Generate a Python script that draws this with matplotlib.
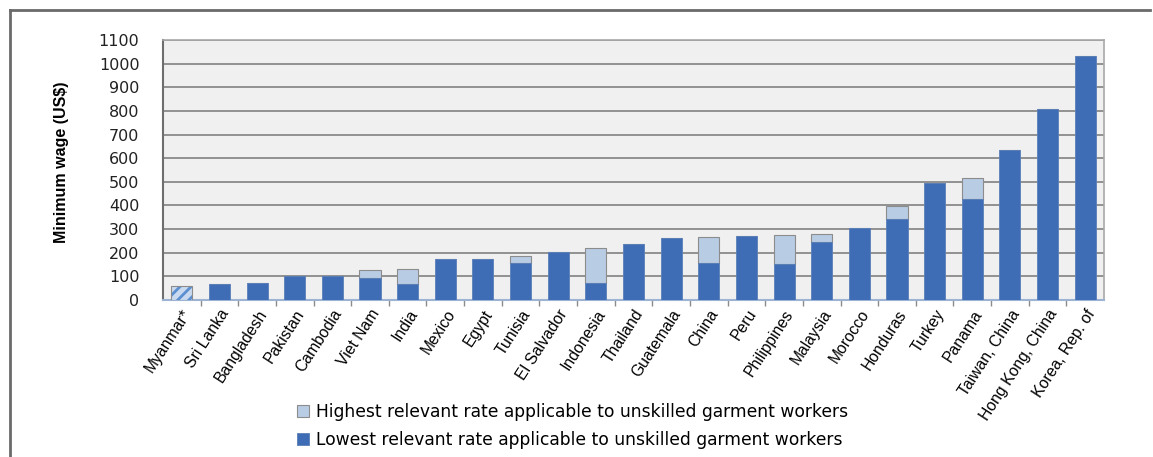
import matplotlib
matplotlib.use("Agg")
import matplotlib.pyplot as plt
from matplotlib.lines import Line2D
from matplotlib.patches import Patch
import numpy as np

countries = ["Myanmar*", "Sri Lanka", "Bangladesh", "Pakistan", "Cambodia",
             "Viet Nam", "India", "Mexico", "Egypt", "Tunisia", "El Salvador",
             "Indonesia", "Thailand", "Guatemala", "China", "Peru",
             "Philippines", "Malaysia", "Morocco", "Honduras", "Turkey",
             "Panama", "Taiwan, China", "Hong Kong, China", "Korea, Rep. of"]

# Lowest relevant monthly rate (US$)
lowest = [58, 69, 71, 103, 103, 92, 69, 175, 172, 158, 201, 73, 239, 261,
          158, 270, 152, 246, 305, 342, 496, 427, 636, 808, 1032]
# Highest relevant monthly rate (US$)
highest = [58, 69, 71, 103, 103, 128, 133, 175, 172, 185, 201, 220, 239, 261,
           265, 270, 276, 278, 305, 398, 496, 518, 636, 808, 1032]

y_ticks = [0, 100, 200, 300, 400, 500, 600, 700, 800, 900, 1000, 1100]

DARK = "#3E6DB5"
LIGHT = "#B8CCE4"
EDGE = "#8C8C8C"

W, H = 1153, 457
fig = plt.figure(figsize=(W / 100, H / 100), dpi=100)
ax = fig.add_axes([163 / W, 1 - 300 / H, (1104 - 163) / W, (300 - 40) / H])
ax.set_facecolor("#F0F0F0")

x = np.arange(len(countries))
bw = 0.56
low = np.array(lowest, dtype=float)
high = np.array(highest, dtype=float)

# Myanmar is shown hatched; the others are solid stacks
hatched = np.zeros(len(countries), dtype=bool)
hatched[0] = True

# extra range above the lowest rate
ax.bar(x[~hatched], (high - low)[~hatched], bottom=low[~hatched], width=bw,
       color=LIGHT, edgecolor=EDGE, linewidth=0.8, zorder=3)
ax.bar(x[~hatched], low[~hatched], width=bw, color=DARK,
       edgecolor="#5A7FB8", linewidth=0.6, zorder=3)

plt.rcParams["hatch.linewidth"] = 2.0
ax.bar(x[hatched], low[hatched], width=bw, color="#C9DAF0",
       edgecolor="#5B8FD0", hatch="///", linewidth=0, zorder=3)
ax.bar(x[hatched], low[hatched], width=bw, fill=False,
       edgecolor=EDGE, linewidth=0.8, zorder=4)

ax.set_xlim(-0.5, len(countries) - 0.5)
ax.set_ylim(0, 1100)
ax.set_yticks(y_ticks)
ax.set_yticklabels([str(v) for v in y_ticks], fontsize=11.5,
                   family="DejaVu Sans", color="#222222")
ax.tick_params(axis="y", length=0, pad=17)

ax.set_xticks(x)
ax.set_xticklabels(countries, rotation=57, ha="right",
                   rotation_mode="anchor", fontsize=11.3,
                   family="Liberation Sans")
ax.tick_params(axis="x", length=0, pad=5)
ax.set_xticks(np.arange(0.5, len(countries) - 0.5), minor=True)
ax.tick_params(axis="x", which="minor", length=4, color="#8C8C8C", width=1)

ax.yaxis.grid(True, color="#8A8A8A", linewidth=1.3, zorder=1)
ax.set_axisbelow(True)

for side in ("top", "right"):
    ax.spines[side].set_color("#A8A8A8")
    ax.spines[side].set_linewidth(1.2)
ax.spines["left"].set_color("#6E6E6E")
ax.spines["left"].set_linewidth(1.5)
ax.spines["bottom"].set_color("#9DB3D3")
ax.spines["bottom"].set_linewidth(1.5)

ax.set_ylabel("Minimum wage (US$)", fontsize=11.5, fontweight="bold",
              family="Liberation Sans")
ax.yaxis.set_label_coords(-94 / (1104 - 163), 0.53)

handles = [Patch(facecolor=LIGHT, edgecolor=EDGE, linewidth=0.8),
           Patch(facecolor=DARK, edgecolor="#5A7FB8", linewidth=0.6)]
labels = ["Highest relevant rate applicable to unskilled garment workers",
          "Lowest relevant rate applicable to unskilled garment workers"]
fig.legend(handles, labels, loc="upper left",
           bbox_to_anchor=(288 / W, 1 - 394 / H), frameon=False,
           handlelength=0.7, handleheight=0.7,
           handletextpad=0.45, labelspacing=0.6, borderpad=0,
           prop={"family": "DejaVu Sans", "size": 12.3})

# outer frame (left and top edges)
fig.add_artist(Line2D([10 / W, 10 / W], [0, 1 - 10 / H],
                      transform=fig.transFigure, color="#6A6A6A", lw=2))
fig.add_artist(Line2D([10 / W, 1150 / W], [1 - 10 / H, 1 - 10 / H],
                      transform=fig.transFigure, color="#6A6A6A", lw=2))

fig.savefig("out.png", dpi=100, facecolor="white")
